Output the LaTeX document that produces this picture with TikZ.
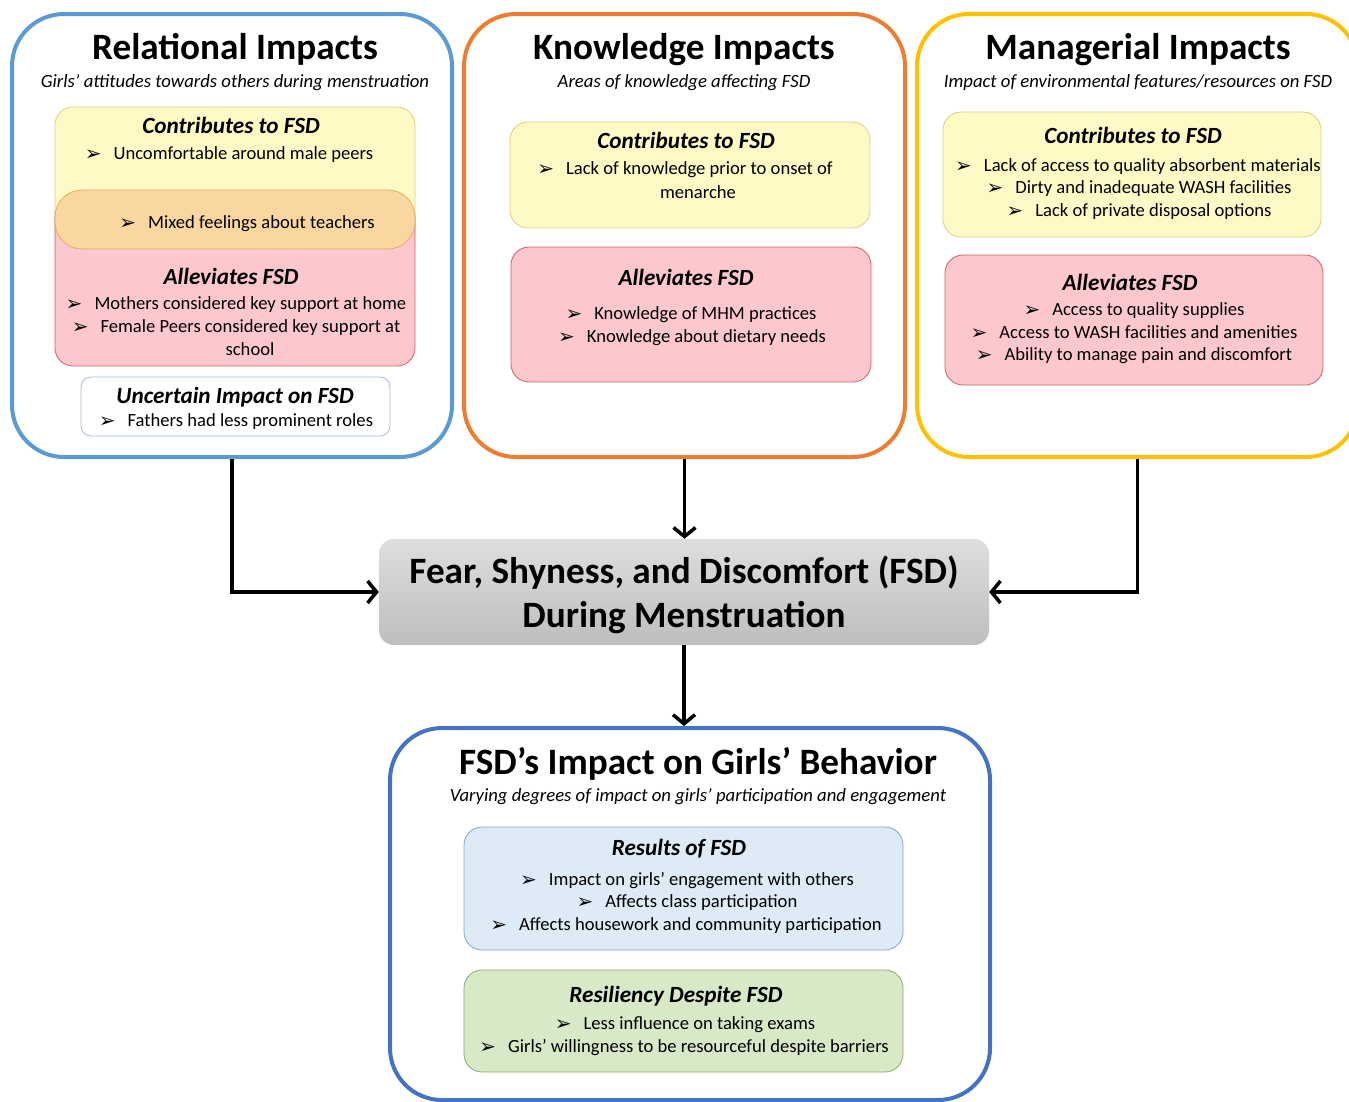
\documentclass[tikz,border=0pt]{standalone}
\usepackage{fontspec}
\setmainfont{Carlito}
\newfontfamily\dvfont{DejaVu Sans}
\usetikzlibrary{arrows.meta}
\definecolor{relblue}{RGB}{91,155,213}
\definecolor{knoworange}{RGB}{237,125,49}
\definecolor{mangold}{RGB}{255,192,0}
\definecolor{behblue}{RGB}{68,114,196}
\definecolor{yfill}{RGB}{255,250,197}
\definecolor{ydraw}{RGB}{222,205,130}
\definecolor{pfill}{RGB}{252,200,205}
\definecolor{pdraw}{RGB}{205,95,105}
\definecolor{ofill}{RGB}{250,215,160}
\definecolor{odraw}{RGB}{222,175,100}
\definecolor{udraw}{RGB}{165,190,215}
\definecolor{bfill}{RGB}{222,235,247}
\definecolor{bdraw}{RGB}{125,165,210}
\definecolor{gfill}{RGB}{216,233,200}
\definecolor{gdraw}{RGB}{140,170,110}
\definecolor{gtop}{RGB}{222,222,222}
\definecolor{gbot}{RGB}{190,190,190}
\newcommand\itm[1]{\raisebox{-1pt}{\dvfont\fontsize{20}{20}\selectfont ➢}\hspace{12pt}#1}
\tikzset{
  outerbox/.style={draw, line width=4pt, rounded corners=52pt, inner sep=0pt},
  innerbox/.style={draw, line width=0.8pt, rounded corners=18pt, inner sep=0pt},
  ybox/.style={innerbox, fill=yfill, draw=ydraw},
  pbox/.style={innerbox, fill=pfill, draw=pdraw},
  obox/.style={innerbox, fill=ofill, draw=odraw, rounded corners=27pt},
  ubox/.style={innerbox, fill=white, draw=udraw, rounded corners=10pt},
  rbox/.style={innerbox, fill=bfill, draw=bdraw},
  gbox/.style={innerbox, fill=gfill, draw=gdraw},
  ttl/.style={inner sep=0pt, yshift=-1.5pt, font=\fontsize{37.2}{40}\selectfont\bfseries},
  sub/.style={inner sep=0pt, yshift=-1.5pt, font=\fontsize{18.7}{20}\selectfont\itshape},
  hd/.style={inner sep=0pt, yshift=-1pt, font=\fontsize{23.2}{24}\selectfont\bfseries\itshape},
  txt/.style={inner sep=0pt, yshift=-1.5pt, align=center, font=\fontsize{18.6}{22.5}\selectfont},
  conn/.style={line width=3.5pt, -{Straight Barb[length=9pt,width=22pt,line width=3.5pt]}},
}
\begin{document}
\begin{tikzpicture}[x=1pt,y=-1pt]
\useasboundingbox (0,0) rectangle (1349,1101);
% outer boxes
\node[outerbox, draw=relblue, minimum width=440pt, minimum height=443pt] (rel) at (232,235.5) {};
\node[outerbox, draw=knoworange, minimum width=441pt, minimum height=443pt] (know) at (684.5,235.5) {};
\node[outerbox, draw=mangold, minimum width=441pt, minimum height=443pt] (man) at (1137.5,235.5) {};
\node[outerbox, draw=behblue, minimum width=600pt, minimum height=372pt] (beh) at (690,914) {};
\node[inner sep=0pt, rounded corners=15pt, top color=gtop, bottom color=gbot, minimum width=610pt, minimum height=106pt] (fsd) at (684,592) {};

% Relational
\node[ttl] (relt) at (235,48) {Relational Impacts};
\node[sub] (rels) at (235,81) {Girls’ attitudes towards others during menstruation};
\node[ybox, minimum width=360pt, minimum height=138pt] (relc) at (235,176) {};
\node[pbox, minimum width=360pt, minimum height=166pt] (rela) at (235,283) {};
\node[obox, minimum width=360pt, minimum height=59pt] (relm) at (235,219.5) {};
\node[ubox, minimum width=309pt, minimum height=59pt] (relu) at (235.5,406.5) {};
\node[hd] (relch) at (231,124) {Contributes to FSD};
\node[txt] (relc1) at (229,153) {\itm{Uncomfortable around male peers}};
\node[txt] (relm1) at (247,222) {\itm{Mixed feelings about teachers}};
\node[hd] (relah) at (231,275) {Alleviates FSD};
\node[txt] (rela1) at (236,303) {\itm{Mothers considered key support at home}};
\node[txt] (rela2) at (236,326) {\itm{Female Peers considered key support at}};
\node[txt] (rela3) at (250,348) {school};
\node[hd] (reluh) at (235,396) {Uncertain Impact on FSD};
\node[txt] (relu1) at (236,420) {\itm{Fathers had less prominent roles}};

% Knowledge
\node[ttl] (knowt) at (684,48) {Knowledge Impacts};
\node[sub] (knows) at (684,81) {Areas of knowledge affecting FSD};
\node[ybox, minimum width=360pt, minimum height=106pt] (knowc) at (690,175) {};
\node[pbox, minimum width=360pt, minimum height=135pt] (knowa) at (691,314.5) {};
\node[hd] (knowch) at (686,139) {Contributes to FSD};
\node[txt] (knowc1) at (685,168) {\itm{Lack of knowledge prior to onset of}};
\node[txt] (knowc2) at (698,191) {menarche};
\node[hd] (knowah) at (686,276) {Alleviates FSD};
\node[txt] (knowa1) at (691,313) {\itm{Knowledge of MHM practices}};
\node[txt] (knowa2) at (692,336) {\itm{Knowledge about dietary needs}};

% Managerial
\node[ttl] (mant) at (1138,48) {Managerial Impacts};
\node[sub] (mans) at (1138,81) {Impact of environmental features/resources on FSD};
\node[ybox, minimum width=378pt, minimum height=125pt] (manc) at (1132,174.5) {};
\node[pbox, minimum width=378pt, minimum height=130pt] (mana) at (1134,320) {};
\node[hd] (manch) at (1133,134) {Contributes to FSD};
\node[txt] (manc1) at (1138,165) {\itm{Lack of access to quality absorbent materials}};
\node[txt] (manc2) at (1139,187) {\itm{Dirty and inadequate WASH facilities}};
\node[txt] (manc3) at (1139,210) {\itm{Lack of private disposal options}};
\node[hd] (manah) at (1130,281) {Alleviates FSD};
\node[txt] (mana1) at (1134,309) {\itm{Access to quality supplies}};
\node[txt] (mana2) at (1134,331) {\itm{Access to WASH facilities and amenities}};
\node[txt] (mana3) at (1134,354) {\itm{Ability to manage pain and discomfort}};

% Center
\node[ttl] (fsd1) at (684,571) {Fear, Shyness, and Discomfort (FSD)};
\node[ttl] (fsd2) at (684,616) {During Menstruation};

% Behavior
\node[ttl] (beht) at (698,762) {FSD’s Impact on Girls’ Behavior};
\node[sub] (behs) at (698,795) {Varying degrees of impact on girls’ participation and engagement};
\node[rbox, minimum width=439pt, minimum height=123pt] (behr) at (683.5,888.5) {};
\node[gbox, minimum width=439pt, minimum height=102pt] (behg) at (683.5,1021) {};
\node[hd] (behrh) at (679,848) {Results of FSD};
\node[txt] (behr1) at (687,879) {\itm{Impact on girls’ engagement with others}};
\node[txt] (behr2) at (687,901) {\itm{Affects class participation}};
\node[txt] (behr3) at (686,924) {\itm{Affects housework and community participation}};
\node[hd] (behgh) at (676,995) {Resiliency Despite FSD};
\node[txt] (behg1) at (685,1023) {\itm{Less influence on taking exams}};
\node[txt] (behg2) at (684,1046) {\itm{Girls’ willingness to be resourceful despite barriers}};

% connectors
\draw[conn] (rel.south) |- (fsd.west);
\draw[conn] (know.south) -- (know.south |- fsd.north);
\draw[conn] (man.south) |- (fsd.east);
\draw[conn] (fsd.south) -- (fsd.south |- beh.north);
\end{tikzpicture}
\end{document}
